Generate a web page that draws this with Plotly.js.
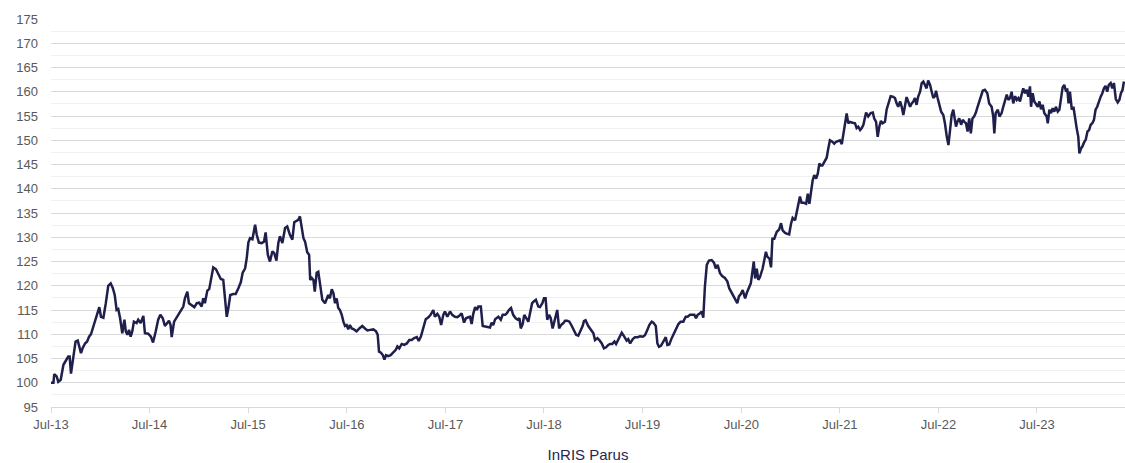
<!DOCTYPE html>
<html>
<head>
<meta charset="utf-8">
<script src="https://cdn.plot.ly/plotly-3.0.1.min.js"></script>
<style>html,body{margin:0;padding:0;background:#fff;}#chart{width:1125px;height:463px;}</style>
</head>
<body>
<div id="chart"></div>
<script>
const seriesName = 'InRIS Parus';
const startDate = '2013-07-01';
const axisEndDay = 3978;
const dayOffsets = [
0,9,12,21,27,36,46,54,64,69,74,83,91,99,105,111,117,126,134,141,148,157,163,169,179,185,194,203,212,221,229,236,243,249,256,264,272,277,283,289,295,301,307,317,323,332,342,348,360,370,378,388,397,405,414,422,431,437,443,447,456,466,475,484,490,496,505,511,521,531,540,549,558,564,570,579,586,595,601,611,620,629,638,645,651,657,664,675,684,694,703,710,719,725,731,737,746,756,762,770,780,789,795,803,811,820,827,835,842,848,857,867,875,885,894,901,910,916,922,929,935,941,949,956,960,
966,972,977,984,990,996,1005,1015,1021,1027,1033,1040,1046,1052,1058,1064,1070,1077,1083,1089,1095,1101,1107,1114,1122,1132,1142,1153,1163,1172,1182,1194,1204,1210,1215,1222,1229,1235,1241,1249,1258,1268,1277,1283,1290,1299,1308,1318,1327,1336,1345,1355,1362,1370,1379,1388,1398,1406,1416,1422,1431,1438,1445,1453,1459,1468,1478,1486,1496,1505,1512,1521,1530,1537,1546,1552,1558,1564,1571,1577,1583,1592,1599,1608,1616,1626,1632,1638,1645,1651,1657,1666,1673,1682,1688,1696,1704,1712,1721,1729,1735,1740,1747,1753,1759,1768,1774,1782,1789,1796,1805,1811,1820,1826,1832,1838,1845,1851,1858,1867,1875,1882,1889,1898,1904,1912,1920,1929,1937,1945,1953,1961,1969,
1974,1980,1990,2003,2009,2015,2024,2031,2040,2048,2056,2064,2071,2079,2087,2093,2101,2114,2120,2126,2132,2138,2145,2155,2163,2173,2182,2192,2200,2209,2216,2225,2231,2240,2246,2252,2259,2268,2277,2283,2290,2299,2308,2315,2324,2332,2342,2351,2358,2367,2375,2383,2389,2395,2404,2410,2416,2422,2429,2437,2447,2456,2462,2469,2478,2486,2496,2505,2512,2521,2527,2534,2542,2548,2555,2562,2571,2577,2583,2592,
2599,2603,2608,2614,2620,2626,2636,2645,2648,2653,2661,2667,2672,2679,2688,2697,2704,2710,2719,2727,2734,2741,2747,2756,2762,2768,2774,2780,2789,2797,2803,2809,2815,2821,2827,2834,2840,2846,2851,2857,2864,2873,2879,2885,2894,2901,2908,2916,2922,2929,2935,2941,2947,2953,2959,
2969,2978,2984,2990,2997,3003,3009,3019,3027,3036,3044,3049,3056,3062,3068,3074,3080,3089,3095,3101,3110,3118,3126,3132,3138,3145,3151,3157,3163,3169,3175,3182,3188,3194,3200,3206,3212,3219,3225,3231,3237,3243,3249,3256,3262,3268,3274,3278,3284,3290,3297,3305,3311,3318,3324,3330,3336,3342,3348,3352,3357,3364,3371,3377,3383,3389,3395,3401,3407,3413,3419,3425,3432,3441,3451,3459,3468,3475,3484,3490,3494,3499,3507,3513,3521,3527,3534,3540,3546,3552,3558,3564,3571,3577,3583,3589,3595,3601,3608,3614,3620,3626,3630,3636,3642,3648,3655,3661,3667,3673,3679,3688,3692,3698,3704,3710,3716,3722,3729,3735,3740,3747,3753,3760,3764,3769,3774,3781,3787,3793,3799,3805,3809,3815,3820,3826,3833,3839,3845,3851,3857,3863,3869,3875,3881,3888,3894,3900,3906,3912,3918,3925,3931,3937,3944,3951,3957,3963,3969,3974
];
const indexValues = [
100.0,100.0,101.8,101.3,100.2,100.6,103.7,104.4,105.4,105.4,101.9,105.4,108.5,108.7,107.5,106.1,107.1,108.1,108.5,109.5,110.0,111.6,112.6,114.0,115.6,113.6,113.4,116.4,120.0,120.5,119.5,118.1,115.0,115.2,113.3,110.2,113.0,110.6,109.9,110.9,109.5,110.6,112.6,112.3,113.0,112.3,113.8,110.2,110.1,109.5,108.3,110.6,113.0,114.0,113.3,111.7,112.3,112.8,111.9,109.4,112.6,113.6,114.3,115.4,115.7,117.4,118.8,116.4,115.9,115.6,116.4,116.5,115.7,117.4,116.4,119.0,119.3,121.9,123.8,123.4,122.3,121.4,121.2,117.8,113.6,115.4,118.1,118.3,118.3,119.5,120.7,122.7,123.6,125.7,128.9,129.8,129.6,132.6,130.5,128.9,128.8,129.1,131.0,126.4,125.0,127.1,126.7,125.2,128.8,130.2,128.8,131.9,132.2,130.5,129.5,133.1,133.5,133.6,134.3,131.9,129.8,129.1,126.9,126.4,121.2,
121.6,121.2,118.8,122.7,122.9,120.2,117.1,116.4,117.1,118.1,117.4,119.3,118.5,116.4,117.4,115.4,115.0,114.0,112.6,111.7,111.9,111.0,111.9,111.2,111.0,110.6,111.2,111.7,111.2,110.8,110.9,111.0,110.6,109.9,106.4,106.2,105.7,104.8,105.7,105.5,105.7,106.2,106.8,107.5,107.1,108.0,107.8,108.1,108.8,108.8,109.2,109.4,108.6,109.5,111.2,113.1,113.5,114.0,115.0,113.6,114.2,113.6,111.9,114.0,114.7,113.6,114.7,114.0,113.6,113.5,113.8,114.3,112.4,113.3,113.5,113.6,112.1,114.2,115.6,115.0,115.7,115.7,111.7,111.6,111.6,111.4,112.4,111.9,113.1,113.3,113.6,113.0,114.0,114.0,114.3,115.0,115.4,114.0,113.3,113.0,113.3,111.2,112.1,114.0,113.3,112.6,114.3,116.4,116.8,117.1,115.7,115.6,116.4,117.4,117.4,113.0,114.0,113.3,111.2,113.3,115.0,111.2,111.9,112.3,112.8,112.8,112.6,111.7,110.6,109.9,109.7,110.6,111.7,
112.7,112.9,111.7,110.7,110.2,108.8,109.2,108.8,108.1,107.1,107.3,107.8,108.0,108.0,108.5,108.0,108.8,110.3,109.8,109.2,108.7,109.0,108.1,109.0,109.4,109.4,109.6,109.5,109.8,110.9,111.9,112.6,112.4,111.7,108.1,107.4,107.6,108.5,109.4,107.8,107.9,109.2,110.2,111.2,112.1,112.6,112.6,113.6,113.6,114.0,114.0,114.0,113.3,114.0,114.3,114.7,113.4,119.8,124.3,125.2,125.3,124.7,123.6,124.3,122.6,122.0,121.6,120.9,119.5,118.6,118.1,117.4,116.4,117.8,118.3,119.1,117.4,118.5,119.3,120.5,
123.3,125.0,121.5,123.5,121.2,121.8,123.6,126.5,127.0,126.0,125.6,123.8,129.7,129.7,131.1,131.6,132.9,131.4,130.9,130.7,130.6,132.8,134.0,133.5,135.2,137.3,138.4,137.1,137.1,136.9,139.0,136.9,139.7,141.7,142.8,142.1,143.1,145.2,144.8,144.8,145.5,146.4,148.3,150.0,149.7,149.3,149.7,149.9,150.0,149.2,151.4,153.8,155.5,153.5,153.8,
153.6,153.5,152.5,152.8,152.1,152.5,153.2,155.7,154.9,155.6,155.7,154.5,153.8,150.7,152.8,154.0,153.5,153.8,156.3,157.6,159.1,159.0,158.7,157.6,156.9,158.0,156.9,155.2,157.6,158.9,158.0,156.9,157.6,158.0,158.7,157.3,159.0,160.0,161.8,162.1,161.4,160.7,162.3,161.4,160.0,158.7,159.1,160.2,158.7,157.3,155.9,155.2,153.5,150.7,149.0,152.1,155.2,156.3,154.5,152.8,153.8,154.5,153.2,154.2,153.8,153.5,151.8,154.5,151.4,154.5,154.9,155.6,156.9,158.7,160.2,160.4,159.7,157.6,156.9,154.9,151.4,155.6,156.3,154.9,155.6,156.9,158.5,159.4,158.3,158.7,160.0,157.6,159.1,158.3,158.7,158.0,159.4,160.7,159.7,160.4,159.0,161.1,156.9,159.7,158.0,157.6,156.9,158.0,156.4,157.3,155.6,154.9,153.5,156.3,155.6,156.6,155.9,156.9,155.9,156.3,158.7,160.9,161.4,160.0,160.7,157.6,160.0,156.3,156.9,154.2,152.5,150.7,147.3,148.3,148.7,149.5,150.2,151.8,152.1,153.2,153.5,154.2,156.3,156.9,158.0,159.0,159.7,160.7,161.2,160.0,161.4,161.8,160.7,161.8,158.5,157.8,158.3,159.7,160.4,162.1
];
const yTickLabels = ['95','100','105','110','115','120','125','130','135','140','145','150','155','160','165','170','175'];

const t0 = Date.UTC(2013, 6, 1);
const toDate = d => new Date(t0 + d * 86400000).toISOString().slice(0, 10);
const dates = dayOffsets.map(toDate);

const font = 'Liberation Sans, Arial, sans-serif';
const trace = {
  type: 'scatter', mode: 'lines', name: seriesName,
  x: dates, y: indexValues,
  line: {color: '#1f1f4b', width: 2.5},
  hoverinfo: 'x+y'
};
const layout = {
  width: 1125, height: 463,
  margin: {l: 51, r: 0, t: 19, b: 56},
  paper_bgcolor: '#ffffff', plot_bgcolor: '#ffffff',
  font: {family: font, color: '#595959', size: 13},
  showlegend: false,
  xaxis: {
    type: 'date', range: [startDate, toDate(axisEndDay)],
    tick0: startDate, dtick: 'M12', tickformat: '%b-%y',
    ticks: 'outside', ticklen: 5, tickcolor: '#d9d9d9', tickwidth: 1,
    showline: true, linecolor: '#d9d9d9', linewidth: 1,
    showgrid: false, zeroline: false,
    tickfont: {family: font, size: 13, color: '#595959'},
    title: {text: seriesName, font: {family: font, size: 15, color: '#262650'}, standoff: 19},
    automargin: false
  },
  yaxis: {
    range: [95, 175], tickmode: 'array',
    tickvals: yTickLabels.map(Number), ticktext: yTickLabels,
    showgrid: true, gridcolor: '#d9d9d9', gridwidth: 1,
    minor: {dtick: 2.5, tick0: 95, showgrid: true, gridcolor: '#f1f1f1', gridwidth: 1},
    zeroline: false, showline: false, ticks: '',
    ticklabelstandoff: 12,
    tickfont: {family: font, size: 13, color: '#595959'},
    automargin: false
  }
};
Plotly.newPlot('chart', [trace], layout, {displayModeBar: false, staticPlot: true});
</script>
</body>
</html>
